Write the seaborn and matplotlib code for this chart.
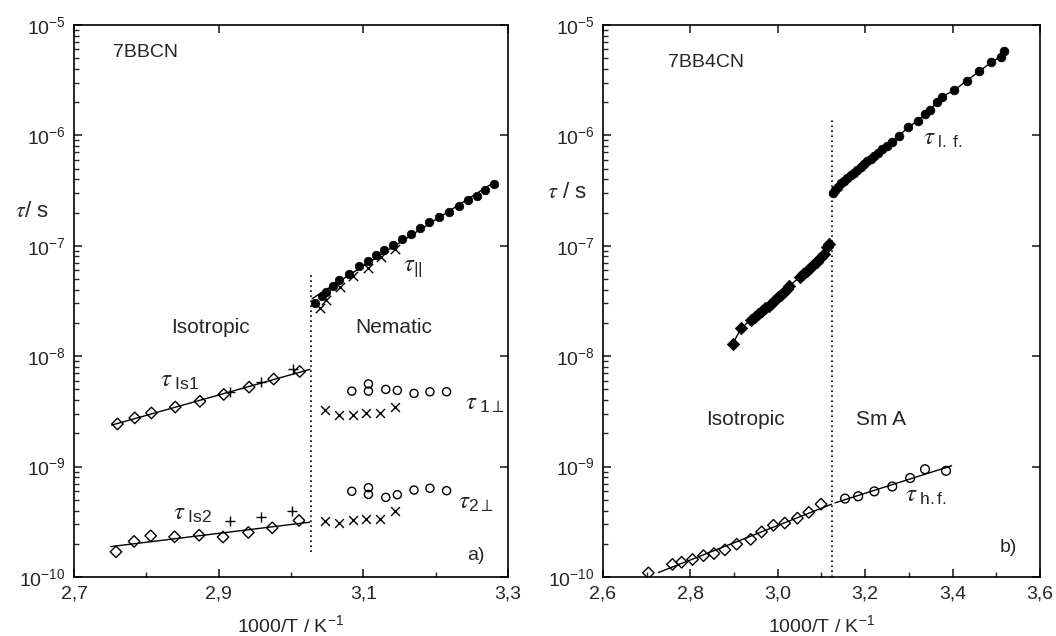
import numpy as np
import matplotlib
matplotlib.use('Agg')
import matplotlib.pyplot as plt
import seaborn as sns
from matplotlib.ticker import FixedLocator, FuncFormatter, NullFormatter, LogFormatterSciNotation

# ---- panel a) 7BBCN ----
par_circ_x = [3.033, 3.043, 3.049, 3.058, 3.067, 3.080, 3.094, 3.106, 3.118, 3.129, 3.141,
              3.154, 3.166, 3.178, 3.191, 3.205, 3.218, 3.232, 3.245, 3.257, 3.268, 3.281]
par_circ_y = [3.01e-8, 3.51e-8, 3.85e-8, 4.33e-8, 4.94e-8, 5.6e-8, 6.5e-8, 7.3e-8, 8.2e-8, 9.1e-8, 1.01e-7,
              1.15e-7, 1.29e-7, 1.44e-7, 1.63e-7, 1.84e-7, 2.04e-7, 2.31e-7, 2.57e-7, 2.85e-7, 3.21e-7, 3.6e-7]
par_x_x = [3.040, 3.049, 3.068, 3.086, 3.106, 3.124, 3.144]
par_x_y = [2.75e-8, 3.2e-8, 4.2e-8, 5.3e-8, 6.35e-8, 7.9e-8, 9.3e-8]
par_fit_x = [3.029, 3.281]

is1_x = [2.760, 2.784, 2.807, 2.840, 2.874, 2.907, 2.942, 2.976, 3.012]
is1_y = [2.43e-9, 2.76e-9, 3.06e-9, 3.46e-9, 3.9e-9, 4.5e-9, 5.24e-9, 6.2e-9, 7.26e-9]
is1_plus_x = [2.916, 2.959, 3.003]
is1_plus_y = [4.73e-9, 5.8e-9, 7.6e-9]
is1_fit_x = [2.752, 3.026]

is2_x = [2.758, 2.783, 2.806, 2.839, 2.873, 2.906, 2.941, 2.974, 3.011]
is2_y = [1.69e-10, 2.1e-10, 2.36e-10, 2.31e-10, 2.39e-10, 2.3e-10, 2.53e-10, 2.79e-10, 3.25e-10]
is2_plus_x = [2.916, 2.959, 3.002]
is2_plus_y = [3.2e-10, 3.5e-10, 3.98e-10]
is2_fit_x = [2.751, 3.026]

perp1_circ_x = [3.084, 3.107, 3.107, 3.131, 3.147, 3.170, 3.192, 3.215]
perp1_circ_y = [4.82e-9, 5.6e-9, 4.82e-9, 5.0e-9, 4.9e-9, 4.6e-9, 4.76e-9, 4.76e-9]
perp1_x_x = [3.047, 3.067, 3.085, 3.104, 3.123, 3.144]
perp1_x_y = [3.23e-9, 2.93e-9, 2.92e-9, 3.06e-9, 3.08e-9, 3.46e-9]

perp2_circ_x = [3.084, 3.107, 3.107, 3.131, 3.147, 3.170, 3.192, 3.215]
perp2_circ_y = [5.97e-10, 6.44e-10, 5.6e-10, 5.26e-10, 5.56e-10, 6.13e-10, 6.36e-10, 6.05e-10]
perp2_x_x = [3.047, 3.067, 3.085, 3.104, 3.123, 3.144]
perp2_x_y = [3.19e-10, 3.1e-10, 3.27e-10, 3.36e-10, 3.34e-10, 3.95e-10]

trans_a = 3.027

# ---- panel b) 7BB4CN ----
lf_circ_x = [3.126, 3.131, 3.137, 3.145, 3.151, 3.159, 3.167, 3.174, 3.182, 3.190, 3.197,
             3.205, 3.213, 3.221, 3.230, 3.239, 3.249, 3.261, 3.277, 3.299, 3.320, 3.337,
             3.348, 3.364, 3.375, 3.404, 3.432, 3.461, 3.489, 3.510, 3.518]
lf_circ_y = [2.99e-7, 3.21e-7, 3.44e-7, 3.69e-7, 3.85e-7, 4.1e-7, 4.33e-7, 4.58e-7, 4.88e-7, 5.15e-7, 5.45e-7,
             5.8e-7, 6.14e-7, 6.49e-7, 6.9e-7, 7.46e-7, 8.0e-7, 8.7e-7, 9.86e-7, 1.19e-6, 1.35e-6, 1.55e-6,
             1.69e-6, 2.01e-6, 2.23e-6, 2.56e-6, 3.12e-6, 3.79e-6, 4.61e-6, 5.15e-6, 5.85e-6]
lf_dia_x = [2.897, 2.917, 2.938, 2.947, 2.955, 2.963, 2.971, 2.979, 2.986, 2.994, 3.001, 3.008,
            3.014, 3.020, 3.026, 3.051, 3.058, 3.066, 3.073, 3.081, 3.089, 3.097, 3.105, 3.112, 3.118]
lf_dia_y = [1.30e-8, 1.81e-8, 2.12e-8, 2.24e-8, 2.4e-8, 2.58e-8, 2.72e-8, 2.86e-8, 3.05e-8, 3.22e-8, 3.4e-8, 3.57e-8,
            3.8e-8, 4.1e-8, 4.3e-8, 5.24e-8, 5.6e-8, 5.93e-8, 6.3e-8, 6.68e-8, 7.2e-8, 7.69e-8, 8.5e-8, 9.67e-8, 1.03e-7]

hf_dia_x = [2.704, 2.759, 2.780, 2.805, 2.830, 2.854, 2.879, 2.906, 2.938, 2.963, 2.990, 3.016, 3.045, 3.071, 3.099]
hf_dia_y = [1.09e-10, 1.30e-10, 1.36e-10, 1.44e-10, 1.56e-10, 1.63e-10, 1.76e-10, 1.98e-10, 2.19e-10,
            2.56e-10, 2.94e-10, 3.08e-10, 3.41e-10, 3.85e-10, 4.57e-10]
hf_dia_fit_x = [2.727, 3.123]
hf_circ_x = [3.154, 3.184, 3.221, 3.262, 3.303, 3.337, 3.385]
hf_circ_y = [5.13e-10, 5.38e-10, 5.96e-10, 6.6e-10, 7.87e-10, 9.46e-10, 9.15e-10]
hf_circ_fit_x = [3.131, 3.398]

trans_b = 3.124

decades = [1e-10, 1e-9, 1e-8, 1e-7, 1e-6, 1e-5]

sns.set_style('ticks')
plt.rcParams['font.family'] = ['Liberation Sans', 'DejaVu Sans']
plt.rcParams['mathtext.fontset'] = 'stix'
plt.rcParams['axes.linewidth'] = 1.2

fig = plt.figure(figsize=(10.56, 6.36), dpi=100)
ax1 = fig.add_axes([0.0701, 0.0928, 0.411, 0.868])
ax2 = fig.add_axes([0.571, 0.0928, 0.4138, 0.868])


def fit_line(ax, xs, ys, xr):
    k, b = np.polyfit(xs, np.log10(ys), 1)
    xr = np.array(xr)
    sns.lineplot(x=xr, y=10 ** (k * xr + b), ax=ax, color='black', lw=1, sort=False)


def open_pts(ax, xs, ys, marker, s):
    sns.scatterplot(x=xs, y=ys, ax=ax, marker=marker, s=s, facecolors='none',
                    edgecolors='black', linewidth=1, zorder=3)


def line_pts(ax, xs, ys, marker, s):
    sns.scatterplot(x=xs, y=ys, ax=ax, marker=marker, s=s, color='black', linewidth=1, zorder=3)


def filled_pts(ax, xs, ys, marker, s):
    sns.scatterplot(x=xs, y=ys, ax=ax, marker=marker, s=s, color='black', edgecolor='black',
                    linewidth=0.5, zorder=3)


# panel a
fit_line(ax1, par_circ_x, par_circ_y, par_fit_x)
filled_pts(ax1, par_circ_x, par_circ_y, 'o', 38)
line_pts(ax1, par_x_x, par_x_y, 'x', 45)
fit_line(ax1, is1_x, is1_y, is1_fit_x)
open_pts(ax1, is1_x, is1_y, 'D', 34)
line_pts(ax1, is1_plus_x, is1_plus_y, '+', 50)
fit_line(ax1, is2_x, is2_y, is2_fit_x)
open_pts(ax1, is2_x, is2_y, 'D', 34)
line_pts(ax1, is2_plus_x, is2_plus_y, '+', 50)
open_pts(ax1, perp1_circ_x, perp1_circ_y, 'o', 34)
line_pts(ax1, perp1_x_x, perp1_x_y, 'x', 40)
open_pts(ax1, perp2_circ_x, perp2_circ_y, 'o', 34)
line_pts(ax1, perp2_x_x, perp2_x_y, 'x', 40)
ax1.plot([trans_a, trans_a], [1.7e-10, 5.7e-8], color='black', lw=1.2, ls=(0, (1, 2)))

# panel b
sns.lineplot(x=lf_circ_x, y=lf_circ_y, ax=ax2, color='black', lw=1, sort=False)
filled_pts(ax2, lf_circ_x, lf_circ_y, 'o', 40)
sns.lineplot(x=lf_dia_x, y=lf_dia_y, ax=ax2, color='black', lw=1, sort=False)
filled_pts(ax2, lf_dia_x, lf_dia_y, 'D', 40)
fit_line(ax2, hf_dia_x, hf_dia_y, hf_dia_fit_x)
open_pts(ax2, hf_dia_x, hf_dia_y, 'D', 34)
fit_line(ax2, hf_circ_x, hf_circ_y, hf_circ_fit_x)
open_pts(ax2, hf_circ_x, hf_circ_y, 'o', 40)
ax2.plot([trans_b, trans_b], [1e-10, 1.47e-6], color='black', lw=1.2, ls=(0, (1, 2)))

comma = FuncFormatter(lambda v, p: f'{v:.1f}'.replace('.', ','))
minor_y = [m * d for d in decades[:-1] for m in range(2, 10)]

for ax, (x0, x1), step in [(ax1, (2.7, 3.3), 0.2), (ax2, (2.6, 3.6), 0.2)]:
    ax.set_yscale('log')
    ax.set_ylim(1e-10, 1e-5)
    ax.set_xlim(x0, x1)
    majors = np.round(np.arange(x0, x1 + 1e-6, step), 2)
    minors = np.round(majors[:-1] + step / 2, 2)
    ax.xaxis.set_major_locator(FixedLocator(majors))
    ax.xaxis.set_minor_locator(FixedLocator(minors))
    ax.xaxis.set_major_formatter(comma)
    ax.xaxis.set_minor_formatter(NullFormatter())
    ax.yaxis.set_major_locator(FixedLocator(decades))
    ax.yaxis.set_major_formatter(LogFormatterSciNotation())
    ax.yaxis.set_minor_locator(FixedLocator(minor_y))
    ax.yaxis.set_minor_formatter(NullFormatter())
    ax.tick_params(which='major', direction='in', length=6, width=1.2,
                   top=True, right=True, labelsize=14, pad=6)
    ax.tick_params(which='minor', direction='in', length=3.5, width=1,
                   top=False, right=False)
    ax.set_xlabel('1000/T / K$^{\\mathdefault{-1}}$', fontsize=14, labelpad=9)
    ax.set_ylabel('')
    for sp in ax.spines.values():
        sp.set_color('black')

fig.text(0.030, 0.668, '$\\tau$/ s', fontsize=16, ha='center', va='center')
fig.text(0.537, 0.697, '$\\tau$ / s', fontsize=16, ha='center', va='center')

# text labels panel a
ax1.text(2.754, 5.57e-6, '7BBCN', fontsize=14, ha='left', va='center')
ax1.text(2.889, 1.8e-8, 'Isotropic', fontsize=15, ha='center', va='center')
ax1.text(3.142, 1.8e-8, 'Nematic', fontsize=15, ha='center', va='center')
ax1.text(3.155, 6.4e-8, '$\\tau_{\\mathdefault{||}}$', fontsize=18, ha='left', va='center')
ax1.text(2.819, 6.1e-9, '$\\tau_{\\ \\mathdefault{Is1}}$', fontsize=18, ha='left', va='center')
ax1.text(3.241, 3.77e-9, '$\\tau_{\\ \\mathdefault{1}\\perp}$', fontsize=18, ha='left', va='center')
ax1.text(2.837, 3.8e-10, '$\\tau_{\\ \\mathdefault{Is2}}$', fontsize=18, ha='left', va='center')
ax1.text(3.231, 4.8e-10, '$\\tau_{\\mathdefault{2}\\perp}$', fontsize=18, ha='left', va='center')
ax1.text(3.256, 1.57e-10, 'a)', fontsize=14, ha='center', va='center')

# text labels panel b
ax2.text(2.749, 4.6e-6, '7BB4CN', fontsize=14, ha='left', va='center')
ax2.text(3.332, 9.4e-7, '$\\tau_{\\ \\mathdefault{l.\\ f.}}$', fontsize=18, ha='left', va='center')
ax2.text(2.925, 2.66e-9, 'Isotropic', fontsize=15, ha='center', va='center')
ax2.text(3.236, 2.66e-9, 'Sm A', fontsize=15, ha='center', va='center')
ax2.text(3.291, 5.5e-10, '$\\tau_{\\ \\mathdefault{h.f.}}$', fontsize=18, ha='left', va='center')
ax2.text(3.527, 1.84e-10, 'b)', fontsize=14, ha='center', va='center')

fig.savefig('out.png', dpi=100, facecolor='white')
